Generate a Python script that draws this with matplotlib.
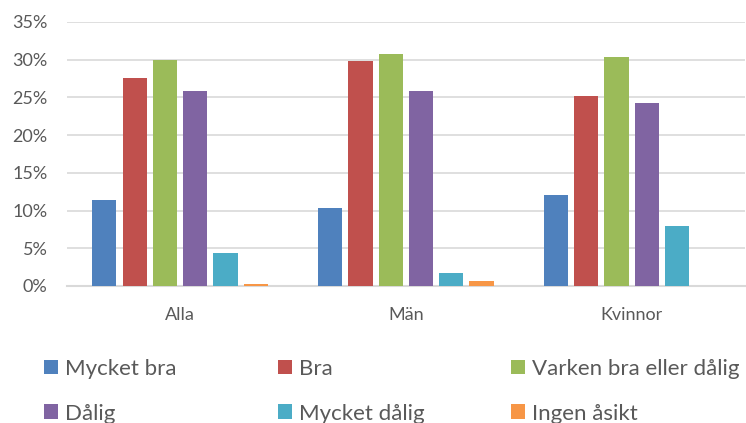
import numpy as np
import matplotlib
matplotlib.use('Agg')
import matplotlib.pyplot as plt
from matplotlib.ticker import PercentFormatter

plt.rcParams['font.family'] = ['Lato', 'DejaVu Sans']

groups = ['Alla', 'Män', 'Kvinnor']
series = ['Mycket bra', 'Bra', 'Varken bra eller dålig', 'Dålig', 'Mycket dålig', 'Ingen åsikt']
mycket_bra = [11.4, 10.4, 12.0]
bra = [27.6, 29.8, 25.2]
varken = [30.0, 30.8, 30.3]
dalig = [25.8, 25.9, 24.2]
mycket_dalig = [4.4, 1.7, 7.9]
ingen_asikt = [0.3, 0.7, 0.0]
colors = ['#4F81BD', '#C0504D', '#9BBB59', '#8064A2', '#4BACC6', '#F79646']

values = [mycket_bra, bra, varken, dalig, mycket_dalig, ingen_asikt]
text_col = '#595959'

fig = plt.figure(figsize=(7.46, 4.23), dpi=100)
ax = fig.add_axes([0.09, 0.324, 0.908, 0.624])

x = np.arange(len(groups))
step = 0.134
handles = []
for i, (vals, col) in enumerate(zip(values, colors)):
    b = ax.bar(x + (i - 2.5) * step, vals, width=step * 0.8, color=col, label=series[i], zorder=3)
    handles.append(b)

ax.set_xlim(-0.5, 2.5)
ax.set_ylim(0, 35)
ax.set_yticks(range(0, 36, 5))
ax.yaxis.set_major_formatter(PercentFormatter(decimals=0))
ax.yaxis.grid(True, color='#D9D9D9', linewidth=1.2, zorder=0)
ax.set_xticks(x)
ax.set_xticklabels(groups)
ax.tick_params(axis='both', length=0, labelsize=13, colors=text_col)
ax.tick_params(axis='x', pad=15)
ax.tick_params(axis='y', pad=14)
for s in ['top', 'right', 'left']:
    ax.spines[s].set_visible(False)
ax.spines['bottom'].set_color('#D9D9D9')
ax.spines['bottom'].set_linewidth(1.5)

# three legend columns, placed like the original
columns = [(0, 3), (1, 4), (2, 5)]
col_x = [0.059, 0.372, 0.685]
for (a, b), cx in zip(columns, col_x):
    leg = fig.legend([handles[a], handles[b]], [series[a], series[b]],
                     loc='center left', bbox_to_anchor=(cx, 0.075), ncol=1, frameon=False,
                     fontsize=16, handlelength=0.65, handleheight=0.65, handletextpad=0.3,
                     labelspacing=1.12, borderaxespad=0, borderpad=0)
    for t in leg.get_texts():
        t.set_color(text_col)

fig.savefig('out.png', dpi=100)
